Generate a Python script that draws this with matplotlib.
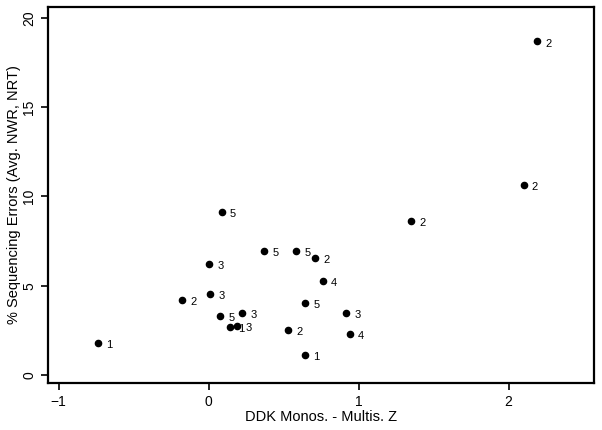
import matplotlib.pyplot as plt

# values
ddk_z = [2.19, 2.10, 1.35, 0.087, 0.369, 0.582, 0.709, 0.002, 0.76, 0.013,
         -0.178, 0.644, 0.918, 0.076, 0.222, 0.14, 0.189, 0.529, 0.94, -0.735, 0.644]
seq_err = [18.67, 10.64, 8.63, 9.13, 6.95, 6.95, 6.57, 6.22, 5.27, 4.54,
           4.20, 4.01, 3.49, 3.31, 3.49, 2.69, 2.76, 2.50, 2.31, 1.81, 1.10]
labels = ['2', '2', '2', '5', '5', '5', '2', '3', '4', '3',
          '2', '5', '3', '5', '3', '1', '3', '2', '4', '1', '1']

x_ticks = [-1, 0, 1, 2]
y_ticks = [0, 5, 10, 15, 20]

plt.rcParams['font.family'] = ['Liberation Sans', 'DejaVu Sans']

fig = plt.figure(figsize=(6.02, 4.30), dpi=100)
ax = fig.add_axes([48 / 602, 1 - 383 / 430, (594 - 48) / 602, (383 - 7) / 430])

ax.scatter(ddk_z, seq_err, s=20, color='black', zorder=3)
for x, y, lab in zip(ddk_z, seq_err, labels):
    ax.annotate(lab, (x, y), xytext=(6, -1.5), textcoords='offset points',
                fontsize=8, va='center', ha='left')

ax.set_xlim(-1.07, 2.57)
ax.set_ylim(-0.45, 20.6)
ax.set_xticks(x_ticks)
ax.set_yticks(y_ticks)
ax.set_yticklabels([str(v) for v in y_ticks], rotation=90, va='center')
ax.tick_params(direction='out', length=5, width=1.2, labelsize=10, colors='black')
for sp in ax.spines.values():
    sp.set_linewidth(1.6)

ax.set_xlabel('DDK Monos. - Multis. Z', fontsize=10.5, labelpad=1)
ax.set_ylabel('% Sequencing Errors (Avg. NWR, NRT)', fontsize=10.5, labelpad=1)

fig.savefig('out.png', dpi=100)
